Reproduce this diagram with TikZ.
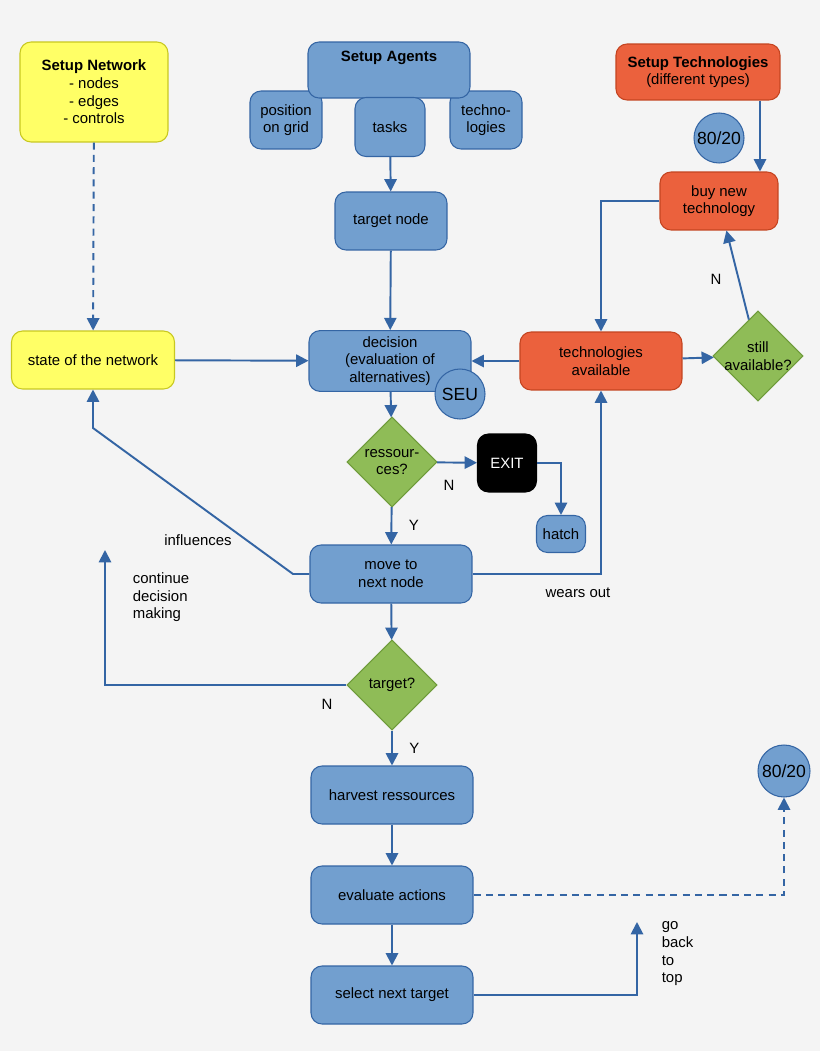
\documentclass[tikz,border=0pt]{standalone}
\usepackage{fontspec}
\setmainfont{Liberation Sans}
\usetikzlibrary{arrows.meta, shapes.geometric}
\definecolor{bgc}{HTML}{F4F4F4}
\definecolor{bluef}{HTML}{729FCF}
\definecolor{blued}{HTML}{3465A4}
\definecolor{yelf}{HTML}{FFFF66}
\definecolor{yeld}{HTML}{C8C820}
\definecolor{oraf}{HTML}{EB613D}
\definecolor{orad}{HTML}{C44420}
\definecolor{grnf}{HTML}{8FBC57}
\definecolor{grnd}{HTML}{6E9A3A}

\begin{document}
\begin{tikzpicture}[x=0.02cm, y=-0.02cm, font=\fontsize{8.5}{10}\selectfont,
    line width=1.1pt, >={Triangle[length=7pt, width=7pt]},
    box/.style={rectangle, rounded corners=0.22cm, draw=blued, fill=bluef, line width=0.6pt, align=center, minimum width=3.24cm, minimum height=1.16cm},
    small/.style={box, minimum width=1.44cm, minimum height=1.16cm},
    yel/.style={box, fill=yelf, draw=yeld},
    ora/.style={box, fill=oraf, draw=orad},
    dia/.style={diamond, draw=grnd, fill=grnf, line width=0.6pt, align=center, inner sep=-3pt, minimum width=1.8cm, minimum height=1.8cm},
    disc/.style={circle, draw=blued, fill=bluef, line width=0.6pt, minimum size=1.0cm, inner sep=0pt},
    flow/.style={->, draw=blued},
    dflow/.style={->, draw=blued, dashed, dash pattern=on 4pt off 3pt}]
  \fill[bgc] (0,0) rectangle (820,1051);
  \useasboundingbox (0,0) rectangle (820,1051);

  % Setup blocks
  \node[yel, minimum width=2.96cm, minimum height=2cm] (net) at (94,92) {\textbf{Setup Network}\\- nodes\\- edges\\- controls};
  \node[small] (grid) at (286,120) {position\\on grid};
  \node[small] (techs) at (486,120) {techno-\\logies};
  \node[box, minimum height=1.12cm] (agents) at (389,70) {\textbf{Setup Agents}\\[6pt]};
  \node[small, minimum width=1.4cm, minimum height=1.18cm] (tasks) at (390,127) {tasks};
  \node[ora, minimum width=3.28cm, minimum height=1.12cm] (setech) at (698,72) {\textbf{Setup Technologies}\\(different types)};
  \node[disc] (rule) at (719,138) {\fontsize{10}{12}\selectfont 80/20};

  % Main column
  \node[box, minimum width=2.24cm] (target) at (391,221) {target node};
  \node[box] (decision) at (390,361) {decision\\(evaluation of\\alternatives)};
  \node[disc] (seu) at (460,394) {\fontsize{10}{12}\selectfont SEU};
  \node[dia] (res) at (392,462) {ressour-\\ces?};
  \node[box, fill=black, draw=black, text=white, minimum width=1.18cm, minimum height=1.16cm] (exit) at (507,463) {EXIT};
  \node[small, minimum width=0.98cm, minimum height=0.74cm] (hatch) at (561,534) {hatch};
  \node[box] (move) at (391,574) {move to\\next node};
  \node[dia] (tgt) at (392,685) {target?};
  \node[box] (harvest) at (392,795) {harvest ressources};
  \node[box] (evaluate) at (392,895) {evaluate actions};
  \node[box] (select) at (392,995) {select next target};
  \node[disc, minimum size=1.04cm] (rule2) at (784,771) {\fontsize{10}{12}\selectfont 80/20};

  % Side blocks
  \node[yel, minimum width=3.26cm] (state) at (93,360) {state of the network};
  \node[ora] (avail) at (601,361) {technologies\\available};
  \node[dia] (still) at (758,356) {still\\available?};
  \node[ora, minimum width=2.36cm] (buy) at (719,201) {buy new\\technology};

  % Connectors
  \draw[dflow] (net) -- (state);
  \draw[flow] (tasks) -- (target);
  \draw[flow] (target) -- (decision);
  \draw[flow] (state) -- (decision);
  \draw[flow] (avail) -- (decision);
  \draw[flow] (avail) -- (still);
  \draw[flow] (still) -- node[pos=0.45, left=6pt, black] {N} (buy);
  \draw[flow] (setech.south -| 760,0) -- (buy.north -| 760,0);
  \draw[flow] (buy.west) -| (avail.north);
  \draw[flow] (decision) -- (res);
  \draw[flow] (res) -- node[pos=0.3, below=6pt, black] {N} (exit);
  \draw[flow] (exit.east) -| (hatch.north);
  \draw[flow] (res) -- node[right=6pt, black] {Y} (move);
  \draw[flow] (move.west) -- (293,574) -- (93,428) -- (state.south);
  \draw[flow] (move.east) -- (601,574) -- (avail.south);
  \draw[flow] (move) -- (tgt);
  \draw[flow] (tgt.west) -| (105,550);
  \draw[flow] (tgt) -- node[right=6pt, black] {Y} (harvest);
  \draw[flow] (harvest) -- (evaluate);
  \draw[flow] (evaluate) -- (select);
  \draw[dflow] (evaluate.east) -| (rule2.south);
  \draw[flow] (select.east) -| (637,922);

  % Labels
  \node at (198,540) {influences};
  \node[align=left, anchor=north west] at (126,566) {continue\\decision\\making};
  \node at (327,704) {N};
  \node at (578,593) {wears out};
  \node[align=left, anchor=north west] at (655,915) {go\\back\\to\\top};
\end{tikzpicture}
\end{document}
